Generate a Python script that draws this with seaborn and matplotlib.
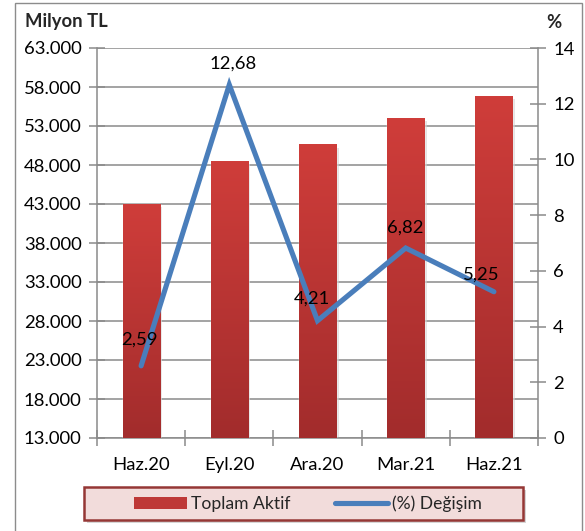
import numpy as np
import pandas as pd
import matplotlib
matplotlib.use("Agg")
import matplotlib.pyplot as plt
from matplotlib.patches import Rectangle
from matplotlib.lines import Line2D
from matplotlib.ticker import FuncFormatter, FixedLocator
from matplotlib.colors import LinearSegmentedColormap
import seaborn as sns

# ---- data ----
categories = ["Haz.20", "Eyl.20", "Ara.20", "Mar.21", "Haz.21"]
toplam_aktif = [43000, 48500, 50600, 54000, 56800]
degisim = [2.59, 12.68, 4.21, 6.82, 5.25]
degisim_labels = ["2,59", "12,68", "4,21", "6,82", "5,25"]
left_ticks = [13000, 18000, 23000, 28000, 33000, 38000, 43000, 48000, 53000, 58000, 63000]
right_ticks = [0, 2, 4, 6, 8, 10, 12, 14]

sns.set_theme(style="white")
plt.rcParams["font.family"] = ["Lato", "DejaVu Sans"]

W, H = 585, 531
fig = plt.figure(figsize=(W / 100, H / 100), dpi=100)
fig.patch.set_facecolor("white")

def fx(px):
    return px / W

def fy(py):
    return 1 - py / H

ax = fig.add_axes([fx(97), fy(438), fx(538) - fx(97), fy(48) - fy(438)])
ax.set_facecolor("white")

GRID = "#8a8a8a"
FS = 13.3
YMIN, YMAX = left_ticks[0], left_ticks[-1]

df = pd.DataFrame({"cat": categories, "aktif": toplam_aktif, "pct": degisim})

sns.barplot(data=df, x="cat", y="aktif", ax=ax, width=0.42, color="#C0393A",
            saturation=1, zorder=3)

# gradient + soft shadow on bars
grad = np.linspace(0, 1, 256).reshape(-1, 1)
cmap = LinearSegmentedColormap.from_list("bar", ["#A22C2C", "#CF3D3A"])
for p in list(ax.patches):
    x0, y0 = p.get_x(), p.get_y()
    w, h = p.get_width(), p.get_height()
    bottom = max(y0, YMIN)
    top = y0 + h
    sh = Rectangle((x0 + 0.03, bottom), w, top - bottom - 400, facecolor="#cfcfcf",
                   alpha=0.55, edgecolor="none", zorder=2)
    ax.add_patch(sh)
    ax.imshow(grad, extent=(x0, x0 + w, bottom, top), origin="lower",
              cmap=cmap, aspect="auto", zorder=3.5)
ax.set_xlim(-0.5, 4.5)
ax.set_ylim(YMIN, YMAX)

ax.yaxis.set_major_locator(FixedLocator(left_ticks))
ax.yaxis.set_major_formatter(FuncFormatter(lambda v, _: f"{v:,.0f}".replace(",", ".")))
ax.grid(axis="y", color=GRID, linewidth=1.1, zorder=0)
ax.grid(axis="x", visible=False)
ax.set_axisbelow(True)
ax.set_xlabel("")
ax.set_ylabel("")

for s in ["left", "bottom", "right"]:
    ax.spines[s].set_color(GRID)
    ax.spines[s].set_linewidth(1.1)
ax.spines["top"].set_visible(False)

ax.tick_params(axis="y", which="major", direction="inout", length=12, width=1.1,
               color=GRID, labelsize=FS, pad=5, left=True, labelcolor="black")
ax.xaxis.set_major_locator(FixedLocator(range(len(categories))))
ax.set_xticklabels(categories)
ax.xaxis.set_minor_locator(FixedLocator(np.arange(-0.5, 5, 1)))
ax.tick_params(axis="x", which="major", length=0, labelsize=FS, pad=14, labelcolor="black")
ax.tick_params(axis="x", which="minor", direction="inout", length=12, width=1.1,
               color=GRID, bottom=True)

# line on secondary axis
ax2 = ax.twinx()
sns.lineplot(x=np.arange(len(categories)), y=df["pct"], ax=ax2, color="#4A7EBB",
             linewidth=3.7, solid_capstyle="round", solid_joinstyle="miter", zorder=5)
ax2.set_ylim(right_ticks[0], right_ticks[-1])
ax2.set_xlim(-0.5, 4.5)
ax2.yaxis.set_major_locator(FixedLocator(right_ticks))
ax2.set_ylabel("")
ax2.grid(False)
for s in ["left", "bottom", "right", "top"]:
    ax2.spines[s].set_visible(False)
ax2.tick_params(axis="y", which="major", direction="inout", length=12, width=1.1,
                color=GRID, labelsize=FS, pad=5, right=True, labelcolor="black")

offsets = [(-1, 19), (3, 15), (-4, 16), (0, 15), (-9, 12)]
for i, (v, lab) in enumerate(zip(degisim, degisim_labels)):
    ax2.annotate(lab, (i, v), xytext=offsets[i], textcoords="offset points",
                 ha="center", va="center", fontsize=FS, color="black", zorder=6)

# titles
fig.text(fx(25), fy(22), "Milyon TL", fontsize=FS, fontweight="bold", ha="left", va="center")
fig.text(fx(554), fy(22), "%", fontsize=FS, fontweight="bold", ha="center", va="center")

# outer frame
fig.add_artist(Rectangle((fx(15), fy(560)), fx(582) - fx(15), fy(3) - fy(560),
                         transform=fig.transFigure, facecolor="none",
                         edgecolor="#8c8c8c", linewidth=1.0, zorder=10))

# legend box
fig.add_artist(Rectangle((fx(87), fy(523)), fx(523) - fx(84), fy(487) - fy(520),
                         transform=fig.transFigure, facecolor="#bbbbbb", alpha=0.6,
                         edgecolor="none", zorder=1))
fig.add_artist(Rectangle((fx(84), fy(520)), fx(523) - fx(84), fy(487) - fy(520),
                         transform=fig.transFigure, facecolor="#F2DCDB",
                         edgecolor="#953735", linewidth=1.8, zorder=2))
handles = [Rectangle((0, 0), 1, 1, facecolor="#BE3837", edgecolor="none"),
           Line2D([0], [0], color="#4A7EBB", linewidth=3.7, solid_capstyle="round")]
leg = fig.legend(handles, ["Toplam Aktif", "(%) Değişim"], loc="center left",
                 bbox_to_anchor=(fx(134), fy(503.5)), ncol=2, frameon=False,
                 fontsize=12.6, handlelength=3.0, handleheight=0.7, handletextpad=0.25,
                 columnspacing=2.55, borderpad=0, borderaxespad=0)
leg.set_zorder(3)

fig.savefig("out.png", dpi=100)
